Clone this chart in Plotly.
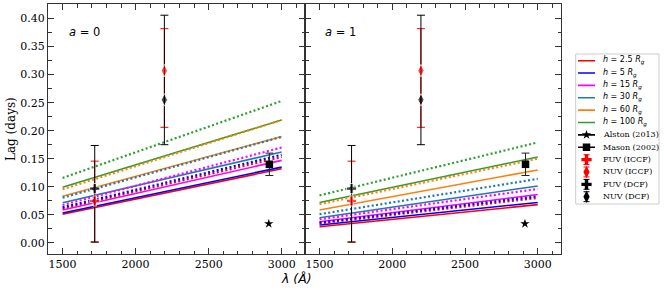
import plotly.graph_objects as go

# ---------------- data ----------------
wavelength = [1500, 3000]
h_values = ["2.5", "5", "15", "30", "60", "100"]
h_colors = ["#ff0000", "#0000ff", "#ff00ff", "#1f77b4", "#ff7f0e", "#2ca02c"]

# a = 0 panel: lag at 1500 A and 3000 A for each h
a0_solid_1500 = [0.0508, 0.0531, 0.0585, 0.0715, 0.0830, 0.0990]
a0_solid_3000 = [0.1320, 0.1350, 0.1470, 0.1620, 0.1896, 0.2190]
a0_dot_1500 = [0.0608, 0.0633, 0.0674, 0.0805, 0.0955, 0.1157]
a0_dot_3000 = [0.1530, 0.1570, 0.1700, 0.1890, 0.2190, 0.2530]
# a = 1 panel
a1_solid_1500 = [0.0287, 0.0317, 0.0376, 0.0447, 0.0585, 0.0720]
a1_solid_3000 = [0.0680, 0.0720, 0.0860, 0.1014, 0.1300, 0.1530]
a1_dot_1500 = [0.0345, 0.0360, 0.0420, 0.0510, 0.0690, 0.0845]
a1_dot_3000 = [0.0800, 0.0830, 0.0960, 0.1140, 0.1500, 0.1790]

obs_wl = [1720, 2197]          # FUV, NUV
iccf_lag = [0.0746, 0.307]
iccf_err_plus = [0.071, 0.075]
iccf_err_minus = [0.0733, 0.101]
dcf_lag = [0.0966, 0.255]
dcf_err_plus = [0.077, 0.151]
dcf_err_minus = [0.0953, 0.080]
mason_wl = [2916]
mason_lag = [0.140]
mason_err = [0.020]
alston_wl = [2912]
alston_lag = [0.034]

x_ticks = [1500, 2000, 2500, 3000]
y_ticks = [0.00, 0.05, 0.10, 0.15, 0.20, 0.25, 0.30, 0.35, 0.40]
panel_labels = ["<i>a</i> = 0", "<i>a</i> = 1"]
other_labels = ["Alston (2013)", "Mason (2002)", "FUV (ICCF)", "NUV (ICCF)", "FUV (DCF)", "NUV (DCF)"]

# ---------------- layout helpers ----------------
W, H = 664, 290
L, R, T, B = 48, 0, 4, 36
PW, PH = W - L - R, H - T - B


def fx(p):
    return (p - L) / PW


def fy(p):
    return (H - B - p) / PH


SERIF = "DejaVu Serif"
SANS = "DejaVu Sans"
AX = "#333333"
OBS_SYMBOLS = ["cross", "diamond-tall"]
OBS_SIZES = [8.5, 9]

fig = go.Figure()

panels = [
    ("x", "y", a0_solid_1500, a0_solid_3000, a0_dot_1500, a0_dot_3000),
    ("x2", "y2", a1_solid_1500, a1_solid_3000, a1_dot_1500, a1_dot_3000),
]

for xa, ya, s0, s1, d0, d1 in panels:
    for i, c in enumerate(h_colors):
        fig.add_trace(go.Scatter(x=wavelength, y=[s0[i], s1[i]], mode="lines",
                                 line=dict(color=c, width=1.6), xaxis=xa, yaxis=ya,
                                 showlegend=False, hoverinfo="skip"))
    for i, c in enumerate(h_colors):
        fig.add_trace(go.Scatter(x=wavelength, y=[d0[i], d1[i]], mode="lines",
                                 line=dict(color=c, width=2.2, dash="2px,2.4px"), xaxis=xa, yaxis=ya,
                                 showlegend=False, hoverinfo="skip"))
    # ICCF error bars (under)
    fig.add_trace(go.Scatter(x=obs_wl, y=iccf_lag, mode="markers", marker=dict(size=1, opacity=0),
                             error_y=dict(type="data", array=iccf_err_plus, arrayminus=iccf_err_minus,
                                          color="#ff0000", thickness=1, width=4),
                             xaxis=xa, yaxis=ya, showlegend=False, hoverinfo="skip"))
    # DCF
    fig.add_trace(go.Scatter(x=obs_wl, y=dcf_lag, mode="markers",
                             marker=dict(color="black", symbol=OBS_SYMBOLS, size=OBS_SIZES),
                             error_y=dict(type="data", array=dcf_err_plus, arrayminus=dcf_err_minus,
                                          color="black", thickness=1, width=4),
                             xaxis=xa, yaxis=ya, showlegend=False, hoverinfo="skip"))
    # ICCF markers on top
    fig.add_trace(go.Scatter(x=obs_wl, y=iccf_lag, mode="markers",
                             marker=dict(color="#ff0000", symbol=OBS_SYMBOLS, size=OBS_SIZES),
                             xaxis=xa, yaxis=ya, showlegend=False, hoverinfo="skip"))
    # Mason
    fig.add_trace(go.Scatter(x=mason_wl, y=mason_lag, mode="markers",
                             marker=dict(color="black", symbol="square", size=7.5),
                             error_y=dict(type="data", array=mason_err, color="#222222", thickness=1, width=4),
                             xaxis=xa, yaxis=ya, showlegend=False, hoverinfo="skip"))
    # Alston
    fig.add_trace(go.Scatter(x=alston_wl, y=alston_lag, mode="markers",
                             marker=dict(color="black", symbol="star", size=7),
                             xaxis=xa, yaxis=ya, showlegend=False, hoverinfo="skip"))

# ---------------- manual legend on its own axes ----------------
for i, (h, c) in enumerate(zip(h_values, h_colors)):
    fig.add_trace(go.Scatter(x=[2.3, 19.3], y=[i, i], mode="lines", line=dict(color=c, width=1.6),
                             xaxis="x3", yaxis="y3", showlegend=False, hoverinfo="skip"))
    fig.add_annotation(x=25, y=i, xref="x3", yref="y3", xanchor="left", yanchor="middle",
                       text=f"<i>h</i> = {h} <i>R<sub>g</sub></i>", showarrow=False,
                       font=dict(family=SANS, size=8, color="black"))
leg_symbols = ["star", "square", "cross", "diamond-tall", "cross", "diamond-tall"]
leg_colors = ["black", "black", "#ff0000", "#ff0000", "black", "black"]
leg_sizes = [7, 7.5, 8.5, 9, 8.5, 9]
for j, lab in enumerate(other_labels):
    i = len(h_values) + j
    if j < 2:
        fig.add_trace(go.Scatter(x=[2.3, 19.3], y=[i, i], mode="lines", line=dict(color="black", width=1.6),
                                 xaxis="x3", yaxis="y3", showlegend=False, hoverinfo="skip"))
        fig.add_trace(go.Scatter(x=[10.8], y=[i], mode="markers",
                                 marker=dict(color=leg_colors[j], symbol=leg_symbols[j], size=leg_sizes[j]),
                                 xaxis="x3", yaxis="y3", showlegend=False, hoverinfo="skip"))
    else:
        fig.add_trace(go.Scatter(x=[10.8], y=[i], mode="markers",
                                 marker=dict(color=leg_colors[j], symbol=leg_symbols[j], size=leg_sizes[j]),
                                 error_y=dict(type="constant", value=0.4, color=leg_colors[j], thickness=1, width=3),
                                 xaxis="x3", yaxis="y3", showlegend=False, hoverinfo="skip"))
    fig.add_annotation(x=25, y=i, xref="x3", yref="y3", xanchor="left", yanchor="middle",
                       text=lab, showarrow=False, font=dict(family=SERIF, size=8, color="black"))

fig.add_shape(type="rect", xref="x3 domain", yref="y3 domain", x0=0, x1=1, y0=0, y1=1,
              line=dict(color="#cccccc", width=1), fillcolor="white", layer="below")

# ---------------- axes ----------------
tickfont = dict(family=SERIF, size=11, color="black")
xcommon = dict(range=[1400, 3160], tickvals=x_ticks, ticks="inside", ticklen=6, tickwidth=1,
               tickcolor=AX, showline=True, linecolor=AX, linewidth=1, mirror="ticks",
               showgrid=False, zeroline=False, tickfont=tickfont,
               minor=dict(ticks="inside", ticklen=3.5, dtick=100, tick0=1500, tickcolor=AX, showgrid=False))
ycommon = dict(range=[-0.02, 0.426], tickvals=y_ticks, tickformat=".2f", ticks="inside", ticklen=6,
               tickwidth=1, tickcolor=AX, showline=True, linecolor=AX, linewidth=1, mirror="ticks",
               showgrid=False, zeroline=False, tickfont=tickfont,
               minor=dict(ticks="inside", ticklen=3.5, dtick=0.025, tick0=0, tickcolor=AX, showgrid=False))

x_split = fx(305)
fig.update_layout(
    width=W, height=H,
    margin=dict(l=L, r=R, t=T, b=B),
    paper_bgcolor="white", plot_bgcolor="white",
    showlegend=False,
    xaxis=dict(domain=[0, x_split], anchor="y", **xcommon),
    yaxis=dict(domain=[0, 1], anchor="x", **ycommon),
    xaxis2=dict(domain=[x_split, fx(561)], anchor="y2", **xcommon),
    yaxis2=dict(domain=[0, 1], anchor="x2", showticklabels=False, **ycommon),
    xaxis3=dict(domain=[fx(575.7), fx(659)], anchor="y3", range=[0, 83.3], visible=False, fixedrange=True),
    yaxis3=dict(domain=[fy(204), fy(54)], anchor="x3", range=[11.59, -0.54], visible=False, fixedrange=True),
)

# panel labels
for k, lab in enumerate(panel_labels):
    xr = "x domain" if k == 0 else "x2 domain"
    yr = "y domain" if k == 0 else "y2 domain"
    fig.add_annotation(x=(67 - 48) / 257 if k == 0 else (322.7 - 305) / 256, y=fy(32), xref=xr, yref=yr,
                       xanchor="left", yanchor="middle", text=lab, showarrow=False,
                       font=dict(family=SANS, size=11.5, color="black"))

# axis titles
fig.add_annotation(x=fx(296), y=fy(278), xref="paper", yref="paper", xanchor="center", yanchor="middle",
                   text="<i>λ (Å)</i>", showarrow=False, font=dict(family=SANS, size=12.5, color="black"))
fig.add_annotation(x=fx(11), y=fy(129), xref="paper", yref="paper", xanchor="center", yanchor="middle",
                   text="Lag (days)", textangle=-90, showarrow=False,
                   font=dict(family=SERIF, size=12, color="black"))

fig.write_html("out.html",
               config={"displayModeBar": False},
               post_script="document.body.style.margin='0';document.body.style.padding='0';"
                           "document.body.style.overflow='hidden';")
